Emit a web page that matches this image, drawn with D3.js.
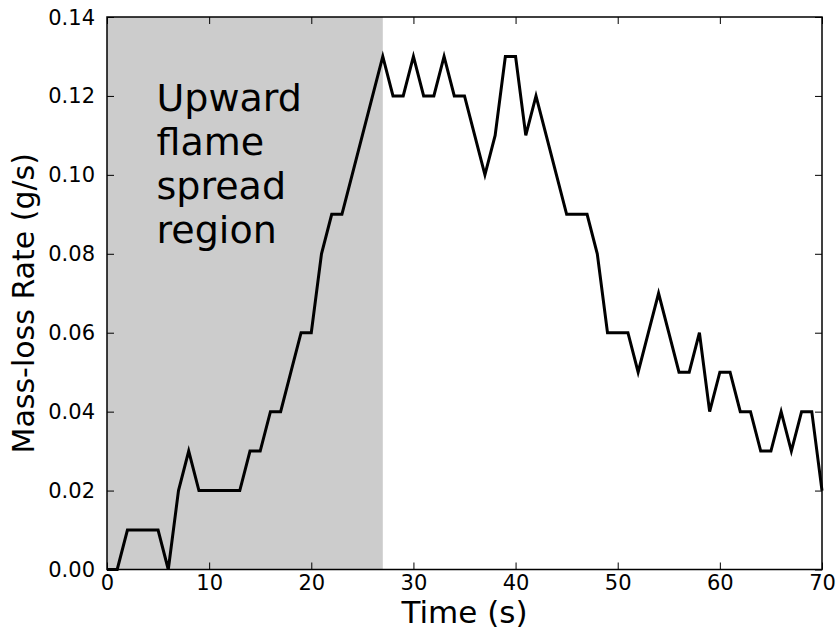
<!DOCTYPE html>
<html>
<head>
<meta charset="utf-8">
<script src="https://cdn.jsdelivr.net/npm/d3@7"></script>
<style>
  body { margin: 0; background: #fff; }
  svg text { font-family: "DejaVu Sans", sans-serif; fill: #000; }
</style>
</head>
<body>
<div id="chart"></div>
<script>
var times = d3.range(0, 71);
var massLoss = [
	0, 0, 0.01, 0.01, 0.01, 0.01, 0, 0.02, 0.03, 0.02,
	0.02, 0.02, 0.02, 0.02, 0.03, 0.03, 0.04, 0.04, 0.05, 0.06,
	0.06, 0.08, 0.09, 0.09, 0.10, 0.11, 0.12, 0.13, 0.12, 0.12,
	0.13, 0.12, 0.12, 0.13, 0.12, 0.12, 0.11, 0.10, 0.11, 0.13,
	0.13, 0.11, 0.12, 0.11, 0.10, 0.09, 0.09, 0.09, 0.08, 0.06,
	0.06, 0.06, 0.05, 0.06, 0.07, 0.06, 0.05, 0.05, 0.06, 0.04,
	0.05, 0.05, 0.04, 0.04, 0.03, 0.03, 0.04, 0.03, 0.04, 0.04,
	0.02
];
var xTicks = [0, 10, 20, 30, 40, 50, 60, 70];
var yTicks = [0, 0.02, 0.04, 0.06, 0.08, 0.10, 0.12, 0.14];
var spreadRegion = [0, 27];
var regionLabel = ["Upward", "flame", "spread", "region"];

var margin = {top: 17, right: 16, bottom: 62.5, left: 107},
	width = 838 - margin.left - margin.right,
	height = 632 - margin.top - margin.bottom;

var x = d3.scaleLinear().domain([0, 70]).range([0, width]);
var y = d3.scaleLinear().domain([0, 0.14]).range([height, 0]);

var svg = d3.select("#chart").append("svg")
	.attr("width", 838)
	.attr("height", 632)
	.append("g")
	.attr("transform", "translate(" + margin.left + "," + margin.top + ")");

// shaded flame-spread region
svg.append("rect")
	.attr("x", x(spreadRegion[0]))
	.attr("y", 0)
	.attr("width", x(spreadRegion[1]) - x(spreadRegion[0]))
	.attr("height", height)
	.style("fill", "#cccccc");

var label = svg.append("text")
	.attr("x", x(4.85))
	.attr("y", y(0.1163))
	.style("font-size", "38px");
label.selectAll("tspan")
	.data(regionLabel)
	.enter()
	.append("tspan")
	.attr("x", x(4.85))
	.attr("dy", function(d, i) { return i == 0 ? 0 : "1.16em"; })
	.text(function(d) { return d; });

var line = d3.line()
	.x(function(d, i) { return x(times[i]); })
	.y(function(d) { return y(d); });

svg.append("path")
	.datum(massLoss)
	.attr("d", line)
	.style("fill", "none")
	.style("stroke", "#000")
	.style("stroke-width", 3)
	.style("stroke-linejoin", "miter");

// axes, ticks pointing inwards like the original
function styleAxis(g, hideText) {
	g.select(".domain").remove();
	g.selectAll(".tick line").style("stroke", "#000").style("stroke-width", 1);
	g.selectAll(".tick text").style("font-size", "21px");
	if (hideText) g.selectAll(".tick text").remove();
}

svg.append("g")
	.attr("transform", "translate(0," + height + ")")
	.call(d3.axisBottom(x).tickValues(xTicks).tickSize(-7).tickPadding(13).tickFormat(d3.format("d")))
	.call(styleAxis, false);

svg.append("g")
	.call(d3.axisTop(x).tickValues(xTicks).tickSize(-7))
	.call(styleAxis, true);

svg.append("g")
	.call(d3.axisLeft(y).tickValues(yTicks).tickSize(-7).tickPadding(12).tickFormat(d3.format(".2f")))
	.call(styleAxis, false);

svg.append("g")
	.attr("transform", "translate(" + width + ",0)")
	.call(d3.axisRight(y).tickValues(yTicks).tickSize(-7))
	.call(styleAxis, true);

svg.selectAll(".tick text").attr("dy", null)
	.attr("dominant-baseline", "central");

svg.append("rect")
	.attr("width", width)
	.attr("height", height)
	.style("fill", "none")
	.style("stroke", "#000")
	.style("stroke-width", 1.5);

svg.append("text")
	.attr("x", width / 2)
	.attr("y", height + 53)
	.style("text-anchor", "middle")
	.style("font-size", "31px")
	.text("Time (s)");

svg.append("text")
	.attr("transform", "translate(-73," + (height / 2 + 10) + ") rotate(-90)")
	.style("text-anchor", "middle")
	.style("font-size", "30px")
	.text("Mass-loss Rate (g/s)");
</script>
</body>
</html>
